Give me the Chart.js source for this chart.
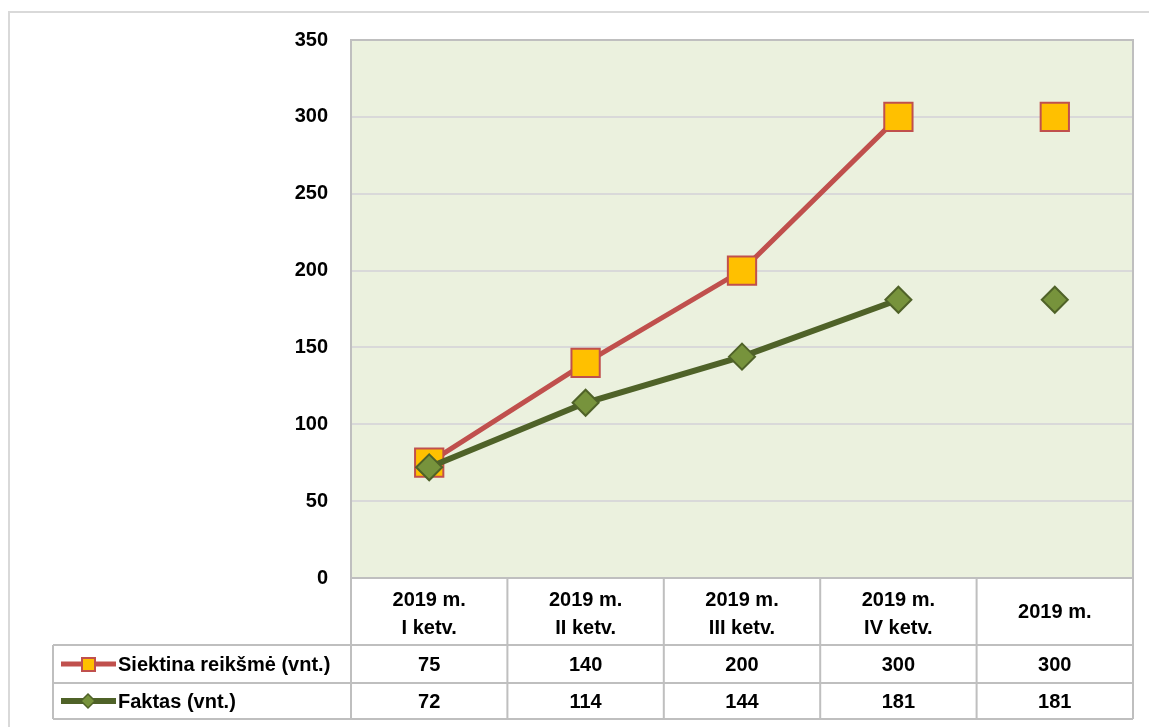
<!DOCTYPE html>
<html><head><meta charset="utf-8">
<script src="https://cdn.jsdelivr.net/npm/chart.js@4/dist/chart.umd.min.js"></script>
<style>html,body{margin:0;padding:0;background:#fff;overflow:hidden}</style>
</head><body>
<canvas id="c" width="1149" height="727"></canvas>
<script>
const categories = [["2019 m.","I ketv."],["2019 m.","II ketv."],["2019 m.","III ketv."],["2019 m.","IV ketv."],["2019 m."]];
const seriesNames = ["Siektina reikšmė (vnt.)","Faktas (vnt.)"];
const targetValues = [75,140,200,300,300];
const actualValues = [72,114,144,181,181];
const yTickValues = [0,50,100,150,200,250,300,350];

const FONT = '"Liberation Sans", Arial, sans-serif';
const RED = '#c0504d', ORANGE = '#ffc000', GREEN_LINE = '#4f6228', GREEN_FILL = '#77933c';
const GRID = '#d9d9d9', BORDER = '#bfbfbf';

const tablePlugin = {
  id: 'dataTable',
  beforeDraw(chart) {
    const {ctx, chartArea: a} = chart;
    ctx.save();
    ctx.fillStyle = '#fff';
    ctx.fillRect(0, 0, chart.width, chart.height);
    ctx.strokeStyle = '#d9d9d9';
    ctx.lineWidth = 2;
    ctx.beginPath();
    ctx.moveTo(9, chart.height);
    ctx.lineTo(9, 12);
    ctx.lineTo(chart.width, 12);
    ctx.stroke();
    ctx.fillStyle = '#ebf1de';
    ctx.fillRect(a.left, a.top, a.right - a.left, a.bottom - a.top);
    ctx.restore();
  },
  afterDraw(chart) {
    const {ctx, chartArea: a} = chart;
    const xs = chart.scales.x;
    const n = categories.length;
    const colW = (a.right - a.left) / n;
    const hdrBottom = a.bottom + 67, r1Bottom = a.bottom + 105, r2Bottom = a.bottom + 141;
    const legLeft = 53;
    ctx.save();
    ctx.strokeStyle = BORDER;
    ctx.lineWidth = 2;
    ctx.strokeRect(a.left, a.top, a.right - a.left, a.bottom - a.top);
    ctx.beginPath();
    ctx.moveTo(legLeft, hdrBottom); ctx.lineTo(a.right, hdrBottom);
    ctx.moveTo(legLeft, r1Bottom); ctx.lineTo(a.right, r1Bottom);
    ctx.moveTo(legLeft, r2Bottom); ctx.lineTo(a.right, r2Bottom);
    for (let i = 0; i <= n; i++) {
      const x = a.left + i * colW;
      ctx.moveTo(x, a.bottom); ctx.lineTo(x, r2Bottom);
    }
    ctx.moveTo(legLeft, hdrBottom); ctx.lineTo(legLeft, r2Bottom);
    ctx.stroke();

    ctx.fillStyle = '#000';
    ctx.font = 'bold 20px ' + FONT;
    ctx.textAlign = 'center';
    ctx.textBaseline = 'middle';
    for (let i = 0; i < n; i++) {
      const x = xs.getPixelForValue(i);
      const lines = categories[i];
      if (lines.length === 2) {
        ctx.fillText(lines[0], x, a.bottom + 22);
        ctx.fillText(lines[1], x, a.bottom + 50);
      } else {
        ctx.fillText(lines[0], x, a.bottom + 34);
      }
      ctx.fillText(String(targetValues[i]), x, (hdrBottom + r1Bottom) / 2 + 1);
      ctx.fillText(String(actualValues[i]), x, (r1Bottom + r2Bottom) / 2 + 1);
    }
    const rows = [(hdrBottom + r1Bottom) / 2, (r1Bottom + r2Bottom) / 2];
    ctx.lineWidth = 5; ctx.strokeStyle = RED;
    ctx.beginPath(); ctx.moveTo(61, rows[0]); ctx.lineTo(116, rows[0]); ctx.stroke();
    ctx.fillStyle = ORANGE; ctx.lineWidth = 2;
    ctx.fillRect(82, rows[0] - 6, 13, 13); ctx.strokeRect(82, rows[0] - 6, 13, 13);
    ctx.lineWidth = 6; ctx.strokeStyle = GREEN_LINE;
    ctx.beginPath(); ctx.moveTo(61, rows[1]); ctx.lineTo(116, rows[1]); ctx.stroke();
    ctx.fillStyle = GREEN_FILL; ctx.lineWidth = 1.5;
    ctx.beginPath();
    ctx.moveTo(88, rows[1] - 7); ctx.lineTo(95, rows[1]); ctx.lineTo(88, rows[1] + 7); ctx.lineTo(81, rows[1]); ctx.closePath();
    ctx.fill(); ctx.stroke();
    ctx.fillStyle = '#000';
    ctx.textAlign = 'left';
    ctx.fillText(seriesNames[0], 118, rows[0] + 1);
    ctx.fillText(seriesNames[1], 118, rows[1] + 1);
    ctx.restore();
  }
};

new Chart(document.getElementById('c'), {
  type: 'line',
  data: {
    labels: categories,
    datasets: [
      {
        label: seriesNames[0],
        data: targetValues,
        order: 1,
        borderColor: RED,
        borderWidth: 5,
        pointStyle: 'rect',
        pointRadius: 20,
        pointHoverRadius: 20,
        pointBackgroundColor: ORANGE,
        pointBorderColor: RED,
        pointBorderWidth: 2,
        tension: 0,
        segment: { borderColor: c => c.p0DataIndex === 3 ? 'rgba(0,0,0,0)' : undefined }
      },
      {
        label: seriesNames[1],
        data: actualValues,
        order: 0,
        borderColor: GREEN_LINE,
        borderWidth: 6,
        pointStyle: 'rectRot',
        pointRadius: 13,
        pointHoverRadius: 13,
        pointBackgroundColor: GREEN_FILL,
        pointBorderColor: GREEN_LINE,
        pointBorderWidth: 2,
        tension: 0,
        segment: { borderColor: c => c.p0DataIndex === 3 ? 'rgba(0,0,0,0)' : undefined }
      }
    ]
  },
  options: {
    responsive: false,
    animation: false,
    events: [],
    layout: { autoPadding: false, padding: { left: 0, top: 40, right: 16, bottom: 149 } },
    plugins: { legend: { display: false }, tooltip: { enabled: false } },
    scales: {
      x: {
        type: 'category',
        offset: true,
        ticks: { display: false },
        grid: { display: false, drawTicks: false },
        border: { display: false }
      },
      y: {
        min: 0, max: 350,
        afterFit(s) { s.width = 351; },
        afterBuildTicks(s) { s.ticks = yTickValues.map(v => ({ value: v })); },
        ticks: {
          padding: 23,
          color: '#000',
          font: { family: FONT, size: 20, weight: 'bold' }
        },
        grid: { color: GRID, lineWidth: 2, drawTicks: false },
        border: { display: false }
      }
    }
  },
  plugins: [tablePlugin]
});
</script>
</body></html>
